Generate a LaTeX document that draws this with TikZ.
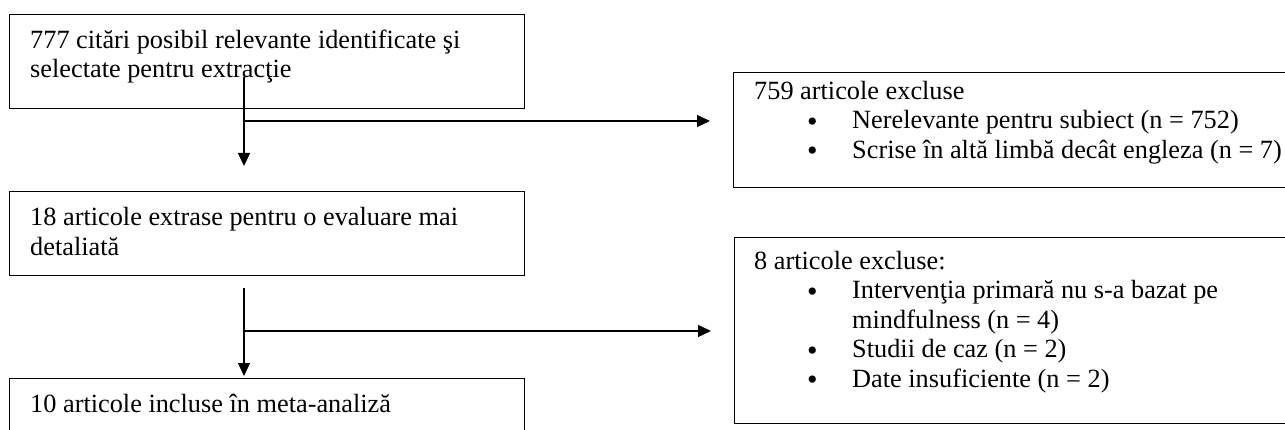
\documentclass[tikz,border=0pt]{standalone}
\usepackage{fontspec}
\setmainfont{Liberation Serif}
\usetikzlibrary{arrows.meta}
\newcommand{\bul}{\makebox[45pt][l]{\smash{\fontsize{30}{30}\selectfont\raisebox{-2.5pt}{\textbullet}}}}
\begin{document}
\begin{tikzpicture}[x=1pt,y=-1pt,
  box/.style={draw, line width=1.4pt, rectangle, anchor=north west, inner sep=0pt},
  txt/.style={anchor=north west, inner sep=0pt, align=left, font=\fontsize{26.3}{29.5}\selectfont},
  arr/.style={line width=1.3pt, -{Triangle[length=13pt,width=12pt]}},
  ln/.style={line width=1.3pt}]
\useasboundingbox (0,0) rectangle (1285,430);
% boxes
\node[box, minimum width=515pt, minimum height=94pt] (b1) at (9,14) {};
\node[box, minimum width=515pt, minimum height=84pt] (b2) at (9,191) {};
\node[box, minimum width=515pt, minimum height=80pt] (b3) at (9,378) {};
\node[box, minimum width=570pt, minimum height=115pt] (b4) at (733,72) {};
\node[box, minimum width=570pt, minimum height=186pt] (b5) at (734,237) {};
% texts
\node[txt] (t1) at (30,27.65) {\strut 777 citări posibil relevante identificate şi\\ selectate pentru extracţie};
\node[txt] (t2) at (30,204.7) {\strut 18 articole extrase pentru o evaluare mai\\ detaliată};
\node[txt] (t3) at (30,391.7) {\strut 10 articole incluse în meta-analiză};
\node[txt] (t4) at (754,78.5) {\strut 759 articole excluse\\
  \hspace*{53pt}\bul Nerelevante pentru subiect (n = 752)\\
  \hspace*{53pt}\bul Scrise în altă limbă decât engleza (n = 7)};
\node[txt] (t5) at (754,248.5) {\strut 8 articole excluse:\\
  \hspace*{53pt}\bul Intervenţia primară nu s-a bazat pe\\
  \hspace*{98pt}mindfulness (n = 4)\\
  \hspace*{53pt}\bul Studii de caz (n = 2)\\
  \hspace*{53pt}\bul Date insuficiente (n = 2)};
% connectors
\coordinate (s1) at (244,77);
\coordinate (j1) at (244,121);
\coordinate (s2) at (244,288);
\coordinate (j2) at (244,331);
\draw[arr, shorten >=25pt] (s1) -- (s1 |- b2.north);
\draw[arr, shorten >=23pt] (j1) -- (j1 -| b4.west);
\draw[arr, shorten >=2pt] (s2) -- (s2 |- b3.north);
\draw[arr, shorten >=23pt] (j2) -- (j2 -| b5.west);
\end{tikzpicture}
\end{document}
